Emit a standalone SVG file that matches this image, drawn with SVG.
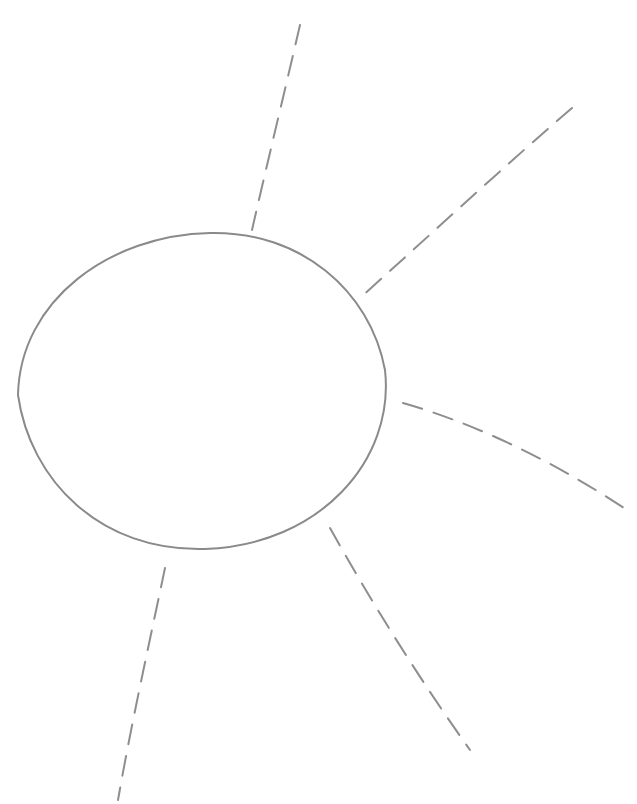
<svg xmlns="http://www.w3.org/2000/svg" width="637" height="804" viewBox="0 0 637 804">
<style>
.body{fill:none;stroke:#8a8a8a;stroke-width:2}
.ray{fill:none;stroke:#8e8e8e;stroke-width:2;stroke-dasharray:20 12;stroke-linecap:round}
</style>
<rect width="637" height="804" fill="#ffffff"/>
<g id="sun">
<path class="body" d="M210,233 C300,231 370,290 385,370 C395,460 320,545 205,549 C100,552 30,480 18,395 C20,300 110,235 210,233 Z"/>
</g>
<g id="rays">
<path class="ray" d="M300,25 C285,90 268,160 252,230"/>
<path class="ray" d="M572,108 C500,170 430,235 360,298"/>
<path class="ray" d="M403,403 C480,425 560,465 630,512"/>
<path class="ray" d="M330,528 C370,600 420,680 470,750"/>
<path class="ray" d="M165,568 C150,640 132,720 118,800"/>
</g>
</svg>
